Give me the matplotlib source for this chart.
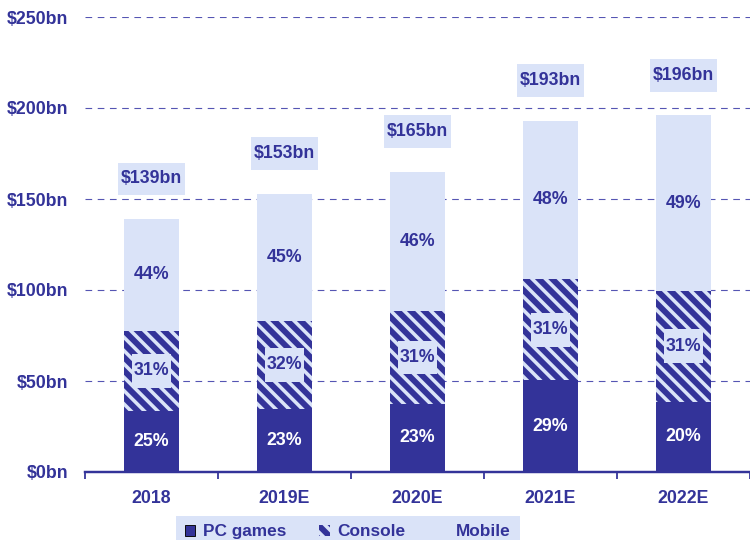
import numpy as np
import matplotlib
matplotlib.use('Agg')
import matplotlib.pyplot as plt
from matplotlib.patches import Rectangle, Patch

# данные (млрд $)
years = ['2018', '2019E', '2020E', '2021E', '2022E']
pc_bn = [33.7, 34.8, 37.4, 50.5, 38.6]
console_bn = [43.8, 48.2, 51.1, 55.5, 61.0]
total_bn = [139, 153, 165, 193, 196]
pc_pct = [25, 23, 23, 29, 20]
console_pct = [31, 32, 31, 31, 31]
mobile_pct = [44, 45, 46, 48, 49]
y_ticks = [0, 50, 100, 150, 200, 250]

DARK = '#333399'
LIGHT = '#dae3f8'
GRID = '#5555b3'

plt.rcParams['font.family'] = ['Liberation Sans', 'DejaVu Sans']
plt.rcParams['font.weight'] = 'bold'
plt.rcParams['hatch.linewidth'] = 3.2

fig = plt.figure(figsize=(9.375, 6.75), dpi=80)
ax = fig.add_axes([85 / 750, 68 / 540, 665 / 750, 455 / 540])

x = np.arange(len(years))
pc = np.array(pc_bn)
con = np.array(console_bn)
mob = np.array(total_bn) - pc - con
w = 0.42
HATCH = '\\\\'

ax.bar(x, pc, width=w, color=DARK, linewidth=0, zorder=2, label='PC games')
ax.bar(x, con, width=w, bottom=pc, color=DARK, edgecolor=LIGHT, hatch=HATCH,
       linewidth=0, zorder=2, label='Console')
ax.bar(x, mob, width=w, bottom=pc + con, color=LIGHT, linewidth=0, zorder=2,
       label='Mobile')

fs = 16
for i in range(len(years)):
    # подписи внутри столбцов
    ax.text(x[i], pc[i] / 2, f'{pc_pct[i]}%', ha='center', va='center',
            color='white', fontsize=fs, fontweight='bold', zorder=5)
    yc = pc[i] + con[i] / 2
    ax.add_patch(Rectangle((x[i] - 0.15, yc - 9.3), 0.30, 18.6,
                           facecolor=LIGHT, edgecolor='none', zorder=4))
    ax.text(x[i], yc, f'{console_pct[i]}%', ha='center', va='center',
            color=DARK, fontsize=fs, fontweight='bold', zorder=5)
    ax.text(x[i], pc[i] + con[i] + mob[i] / 2, f'{mobile_pct[i]}%',
            ha='center', va='center', color=DARK, fontsize=fs,
            fontweight='bold', zorder=5)
    # итог над столбцом
    yt = total_bn[i] + 22
    ax.add_patch(Rectangle((x[i] - 0.25, yt - 9), 0.50, 18,
                           facecolor=LIGHT, edgecolor='none', zorder=4))
    ax.text(x[i], yt, f'${total_bn[i]}bn', ha='center', va='center',
            color=DARK, fontsize=fs, fontweight='bold', zorder=5)

ax.set_xlim(-0.5, -0.5 + 665 / 134.5)
ax.set_ylim(0, 250)

ax.set_yticks(y_ticks)
ax.set_yticklabels([f'${v}bn' for v in y_ticks])
ax.tick_params(axis='y', length=0, pad=15, labelsize=fs, labelcolor=DARK)

ax.set_xticks(x)
ax.set_xticklabels(years)
ax.set_xticks(np.arange(-0.5, len(years), 1), minor=True)
ax.tick_params(axis='x', which='major', length=0, pad=16, labelsize=fs,
               labelcolor=DARK)
ax.tick_params(axis='x', which='minor', length=6, width=1.6, color=DARK)

ax.yaxis.grid(True, linestyle=(0, (6, 5)), color=GRID, linewidth=1)
ax.set_axisbelow(True)
for s in ['top', 'right', 'left']:
    ax.spines[s].set_visible(False)
ax.spines['bottom'].set_color(DARK)
ax.spines['bottom'].set_linewidth(2.2)
ax.spines['bottom'].set_zorder(6)

handles = [Patch(facecolor=DARK, edgecolor='black', linewidth=0.8),
           Patch(facecolor=DARK, edgecolor=LIGHT, hatch=HATCH, linewidth=0),
           Patch(facecolor=LIGHT, edgecolor='none')]
leg = fig.legend(handles, ['PC games', 'Console', 'Mobile'], ncol=3,
                 loc='lower center', bbox_to_anchor=(0.464, -0.015),
                 frameon=True, fancybox=False, facecolor=LIGHT,
                 edgecolor='none', framealpha=1, fontsize=15.5,
                 handlelength=0.6, handleheight=0.6, handletextpad=0.45,
                 columnspacing=1.9, borderpad=0.5, borderaxespad=0)
for t in leg.get_texts():
    t.set_color(DARK)
    t.set_fontweight('bold')

fig.savefig('out.png', dpi=80)
